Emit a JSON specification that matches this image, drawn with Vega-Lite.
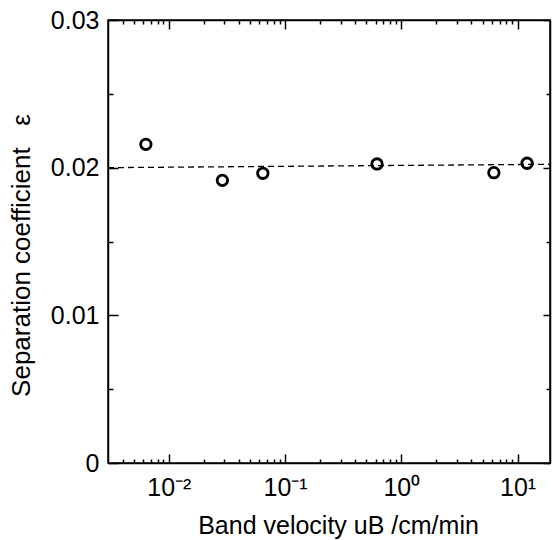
{
  "$schema": "https://vega.github.io/schema/vega-lite/v6.json",
  "autosize": {"type": "none"},
  "width": 442,
  "height": 443,
  "padding": {"left": 108, "top": 20, "right": 2, "bottom": 77},
  "background": "white",
  "config": {
    "view": {"stroke": "black", "strokeWidth": 1.5},
    "axis": {
      "domainColor": "black", "domainWidth": 1.5, "tickColor": "black", "tickWidth": 1.5,
      "labelFont": "Liberation Sans", "labelFontSize": 25, "labelColor": "black",
      "titleFont": "Liberation Sans", "titleFontSize": 24, "titleFontWeight": "normal", "titleColor": "black",
      "grid": false
    }
  },
  "datasets": {
    "points": [
      {"u": 0.00635, "eps": 0.02158},
      {"u": 0.0289, "eps": 0.01914},
      {"u": 0.0644, "eps": 0.01962},
      {"u": 0.618, "eps": 0.02025},
      {"u": 6.25, "eps": 0.01966},
      {"u": 12.07, "eps": 0.0203}
    ],
    "fit": [
      {"u": 0.003, "eps": 0.02},
      {"u": 19, "eps": 0.02023}
    ]
  },
  "layer": [
    {
      "data": {"name": "fit"},
      "mark": {"type": "line", "color": "black", "strokeWidth": 1.3, "strokeDash": [6, 4], "clip": true},
      "encoding": {
        "x": {
          "field": "u", "type": "quantitative",
          "scale": {"type": "log", "domain": [0.003, 19], "nice": false},
          "axis": {
            "orient": "bottom",
            "title": "Band velocity uB /cm/min",
            "titleFontSize": 25,
            "titlePadding": 8,
            "titleX": 230,
            "values": [0.004,0.005,0.006,0.007,0.008,0.009,0.01,0.02,0.03,0.04,0.05,0.06,0.07,0.08,0.09,0.1,0.2,0.3,0.4,0.5,0.6,0.7,0.8,0.9,1,2,3,4,5,6,7,8,9,10],
            "labelExpr": "datum.value == 0.01 ? '10⁻²' : datum.value == 0.1 ? '10⁻¹' : datum.value == 1 ? '10⁰' : datum.value == 10 ? '10¹' : ''",
            "labelFontSize": 25,
            "labelPadding": 21,
            "labelFlush": false,
            "labelOverlap": false,
            "tickSize": {"condition": {"test": "datum.value == 0.01 || datum.value == 0.1 || datum.value == 1 || datum.value == 10", "value": -9}, "value": -4}
          }
        },
        "y": {
          "field": "eps", "type": "quantitative",
          "scale": {"domain": [0, 0.03], "nice": false, "zero": true},
          "axis": {
            "orient": "left",
            "title": "Separation coefficient \u00a0\u00a0ε",
            "titleFontSize": 26,
            "titlePadding": 16,
            "titleY": 235,
            "values": [0, 0.005, 0.01, 0.015, 0.02, 0.025, 0.03],
            "labelExpr": "datum.value == 0 ? '0' : datum.value == 0.01 ? '0.01' : datum.value == 0.02 ? '0.02' : datum.value == 0.03 ? '0.03' : ''",
            "labelFontSize": 25,
            "labelPadding": 19,
            "labelFlush": false,
            "labelOverlap": false,
            "tickSize": {"condition": {"test": "datum.value == 0 || datum.value == 0.01 || datum.value == 0.02 || datum.value == 0.03", "value": -10}, "value": -5}
          }
        }
      }
    },
    {
      "data": {"name": "points"},
      "mark": {"type": "point", "shape": "circle", "filled": false, "color": "black", "strokeWidth": 2.8, "size": 110, "opacity": 1},
      "encoding": {
        "x": {
          "field": "u", "type": "quantitative",
          "axis": {
            "orient": "top", "title": null, "labels": false,
            "values": [0.004,0.005,0.006,0.007,0.008,0.009,0.01,0.02,0.03,0.04,0.05,0.06,0.07,0.08,0.09,0.1,0.2,0.3,0.4,0.5,0.6,0.7,0.8,0.9,1,2,3,4,5,6,7,8,9,10],
            "tickSize": {"condition": {"test": "datum.value == 0.01 || datum.value == 0.1 || datum.value == 1 || datum.value == 10", "value": -9}, "value": -4}
          }
        },
        "y": {
          "field": "eps", "type": "quantitative",
          "axis": {
            "orient": "right", "title": null, "labels": false,
            "values": [0, 0.005, 0.01, 0.015, 0.02, 0.025, 0.03],
            "tickSize": {"condition": {"test": "datum.value == 0 || datum.value == 0.01 || datum.value == 0.02 || datum.value == 0.03", "value": -7}, "value": -4}
          }
        }
      }
    }
  ],
  "resolve": {"axis": {"x": "independent", "y": "independent"}}
}
